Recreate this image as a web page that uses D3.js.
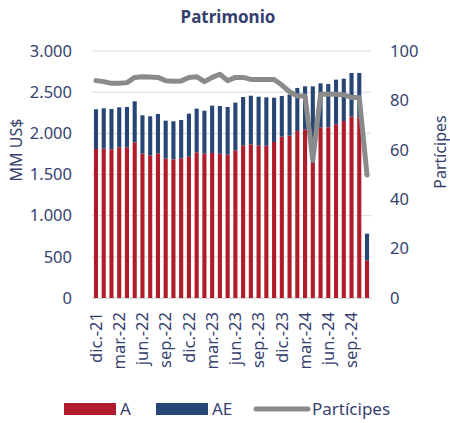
<!DOCTYPE html>
<html>
<head>
<meta charset="utf-8">
<script src="https://cdn.jsdelivr.net/npm/d3@7"></script>
<style>
  body { margin: 0; background: #fff; }
  text { font-family: "Noto Sans", "Open Sans", sans-serif; }
</style>
</head>
<body>
<div id="chart"></div>
<script>
// months, dic.-21 .. nov.-24
const months = ["dic.-21","ene.-22","feb.-22","mar.-22","abr.-22","may.-22","jun.-22","jul.-22","ago.-22","sep.-22","oct.-22","nov.-22",
  "dic.-22","ene.-23","feb.-23","mar.-23","abr.-23","may.-23","jun.-23","jul.-23","ago.-23","sep.-23","oct.-23","nov.-23",
  "dic.-23","ene.-24","feb.-24","mar.-24","abr.-24","may.-24","jun.-24","jul.-24","ago.-24","sep.-24","oct.-24","nov.-24"];

// MM US$
const seriesA = [1810,1814,1806,1830,1830,1891,1753,1733,1757,1692,1684,1697,
  1716,1769,1753,1761,1753,1741,1793,1854,1866,1854,1850,1895,
  1960,1972,2028,2049,1643,2073,2073,2110,2150,2203,2195,458];
const seriesAE = [482,490,490,486,490,498,466,474,478,462,462,465,
  523,531,522,575,579,579,580,587,591,591,587,538,
  493,498,523,522,928,534,526,542,514,530,538,323];

// number of participants (right axis)
const participes = [88.0,87.6,86.9,86.9,87.2,89.3,89.6,89.5,89.3,88.0,87.8,87.9,
  89.3,89.6,87.6,89.3,90.6,88.0,89.3,89.3,88.5,88.5,88.5,88.5,
  86.2,83.5,81.8,81.8,55.9,82.5,82.5,82.5,82.2,81.2,81.2,49.8];

const tickMonths = ["dic.-21","mar.-22","jun.-22","sep.-22","dic.-22","mar.-23","jun.-23","sep.-23","dic.-23","mar.-24","jun.-24","sep.-24"];
const leftTicks = [0,500,1000,1500,2000,2500,3000];
const rightTicks = [0,20,40,60,80,100];

const W = 450, H = 423;
const textColor = "#363f6f";
const colA = "#b01c2b", colAE = "#274676", colLine = "#8a8a8a";

const svg = d3.select("#chart").append("svg")
  .attr("width", W).attr("height", H);

const x = d3.scaleBand().domain(months).range([92, 371]).paddingInner(0.47).paddingOuter(0.25);
const y = d3.scaleLinear().domain([0, 3000]).range([298, 51]);
const y2 = d3.scaleLinear().domain([0, 100]).range([298, 51]);

// title
svg.append("text")
  .attr("x", 228).attr("y", 23)
  .attr("text-anchor", "middle")
  .style("font-size", "17px").style("font-weight", "bold")
  .attr("fill", textColor)
  .text("Patrimonio");

// gridlines
svg.append("g").selectAll("line").data(leftTicks).join("line")
  .attr("x1", 92).attr("x2", 371)
  .attr("y1", d => y(d)).attr("y2", d => y(d))
  .attr("stroke", "#d9d9d9").attr("stroke-width", 1);

// left axis
const gl = svg.append("g").attr("transform", "translate(92,0)")
  .call(d3.axisLeft(y).tickValues(leftTicks).tickSize(0).tickPadding(20)
    .tickFormat(d => d3.format(",")(d).replace(",", ".")));
gl.select(".domain").remove();
gl.selectAll("text").attr("fill", textColor).style("font-size", "16.5px")
  .style("font-family", "Noto Sans, sans-serif");

// right axis
const gr = svg.append("g").attr("transform", "translate(371,0)")
  .call(d3.axisRight(y2).tickValues(rightTicks).tickSize(0).tickPadding(19));
gr.select(".domain").remove();
gr.selectAll("text").attr("fill", textColor).style("font-size", "16.5px")
  .style("font-family", "Noto Sans, sans-serif");

// axis titles
svg.append("text")
  .attr("transform", "translate(22,150) rotate(-90)")
  .attr("text-anchor", "middle")
  .style("font-size", "16px").attr("fill", textColor)
  .text("MM US$");
svg.append("text")
  .attr("transform", "translate(446,152) rotate(-90)")
  .attr("text-anchor", "middle")
  .style("font-size", "16px").attr("fill", textColor)
  .text("Partícipes");

// stacked bars
const rows = months.map((m, i) => ({ month: m, A: seriesA[i], AE: seriesAE[i] }));
const stack = d3.stack().keys(["A", "AE"])(rows);
const colors = { A: colA, AE: colAE };

svg.append("g").selectAll("g").data(stack).join("g")
  .attr("fill", d => colors[d.key])
  .selectAll("rect").data(d => d).join("rect")
  .attr("x", d => x(d.data.month))
  .attr("width", x.bandwidth())
  .attr("y", d => y(d[1]))
  .attr("height", d => y(d[0]) - y(d[1]));

// bottom axis
const gx = svg.append("g").attr("transform", "translate(0,298)")
  .call(d3.axisBottom(x).tickValues(tickMonths).tickSize(0).tickPadding(0));
gx.select(".domain").attr("stroke", "#d9d9d9").attr("d", "M92,0.5H371");
gx.selectAll("text")
  .attr("fill", textColor).style("font-size", "16.5px")
  .style("font-family", "Noto Sans, sans-serif")
  .attr("transform", "rotate(-90)")
  .attr("text-anchor", "end")
  .attr("x", -14).attr("y", 0).attr("dy", "0.35em");

// line
const line = d3.line()
  .x((d, i) => x(months[i]) + x.bandwidth() / 2)
  .y(d => y2(d));
svg.append("path")
  .datum(participes)
  .attr("fill", "none")
  .attr("stroke", colLine)
  .attr("stroke-width", 5)
  .attr("stroke-linejoin", "round")
  .attr("stroke-linecap", "round")
  .attr("d", line);

// legend
const leg = svg.append("g");
leg.append("rect").attr("x", 64).attr("y", 403).attr("width", 52).attr("height", 12).attr("fill", colA);
leg.append("text").attr("x", 120).attr("y", 415).style("font-size", "17px").attr("fill", textColor).text("A");
leg.append("rect").attr("x", 156).attr("y", 403).attr("width", 52).attr("height", 12).attr("fill", colAE);
leg.append("text").attr("x", 212).attr("y", 415).style("font-size", "17px").attr("fill", textColor).text("AE");
leg.append("line").attr("x1", 256).attr("x2", 308).attr("y1", 409).attr("y2", 409)
  .attr("stroke", colLine).attr("stroke-width", 5).attr("stroke-linecap", "round");
leg.append("text").attr("x", 312).attr("y", 415).style("font-size", "17px").attr("fill", textColor).text("Partícipes");
</script>
</body>
</html>
